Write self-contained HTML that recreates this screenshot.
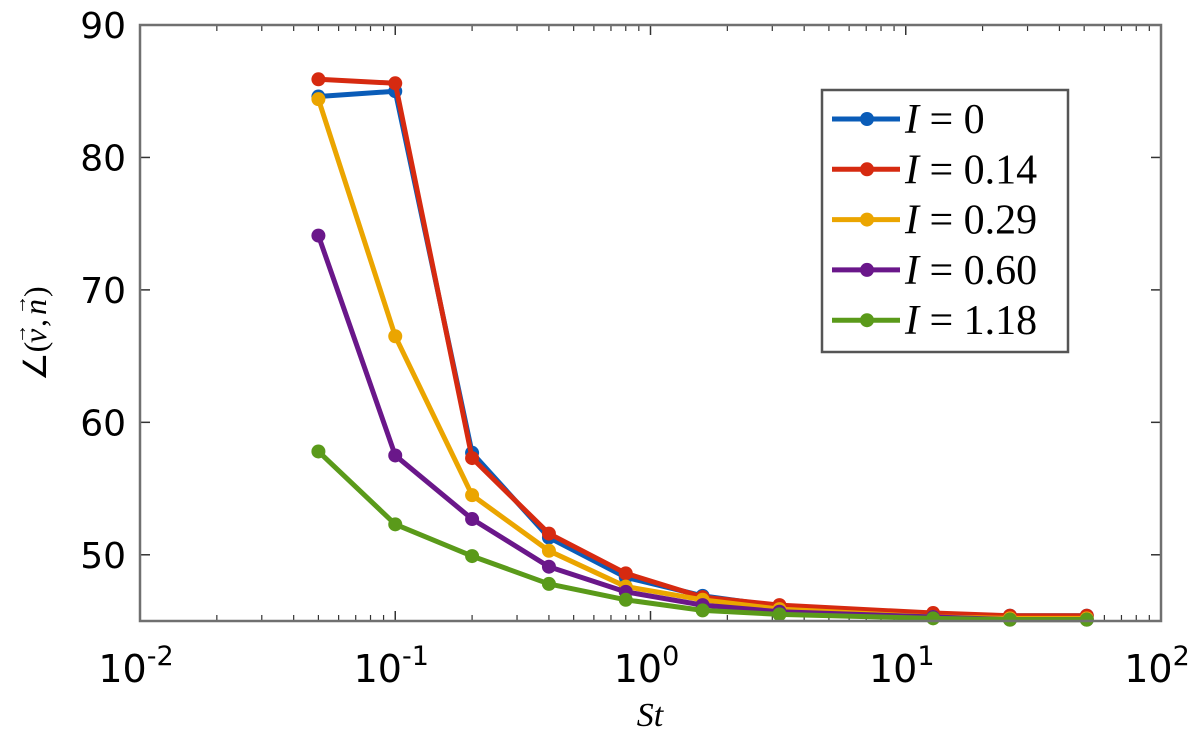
<!DOCTYPE html>
<html><head><meta charset="utf-8">
<style>
html,body{margin:0;padding:0;background:#fff;}
svg{display:block;font-family:"DejaVu Sans","Liberation Sans",sans-serif;}
</style></head>
<body>
<svg id="chart" width="1200" height="736" viewBox="0 0 1200 736" xmlns="http://www.w3.org/2000/svg">
<g id="ticks"></g>
<g id="series"></g>
<rect x="140" y="25" width="1021" height="596" fill="none" stroke="#707070" stroke-width="2.5"/>
<text x="650" y="726" font-family="Liberation Serif,serif" font-style="italic" font-size="34" text-anchor="middle">St</text>
<g transform="translate(36,323) rotate(-90)" font-family="Liberation Serif,serif" font-size="32">
<text x="-58" y="10">∠(</text>
<text x="-20" y="10" font-style="italic">v</text>
<text x="-21" y="-10" font-size="20">→</text>
<text x="-4" y="10">,</text>
<text x="8" y="10" font-style="italic">n</text>
<text x="8" y="-10" font-size="20">→</text>
<text x="26" y="10">)</text>
</g>
<g id="legend">
<rect x="822" y="90" width="246" height="262" fill="#fff" stroke="#555" stroke-width="2.5"/>
</g>
</svg>
<script>
const stValues=[0.05,0.1,0.2,0.4,0.8,1.6,3.2,12.8,25.6,51.2];
const seriesNames=["I = 0","I = 0.14","I = 0.29","I = 0.60","I = 1.18"];
const legendLabels=["0","0.14","0.29","0.60","1.18"];
const seriesColors=["#0a5cb8","#d62a10","#eba500","#6a178a","#5a9a1a"];
const valsI0=[84.6,85.0,57.7,51.3,48.3,46.9,46.1,45.5,45.4,45.4];
const valsI014=[85.9,85.6,57.3,51.6,48.6,46.8,46.2,45.6,45.4,45.4];
const valsI029=[84.4,66.5,54.5,50.3,47.6,46.6,45.9,45.3,45.2,45.2];
const valsI060=[74.1,57.5,52.7,49.1,47.2,46.2,45.7,45.3,45.1,45.1];
const valsI118=[57.8,52.3,49.9,47.8,46.6,45.8,45.5,45.2,45.1,45.1];
const allSeries=[valsI0,valsI014,valsI029,valsI060,valsI118];
const yTicks=[50,60,70,80,90];
const xDecades=[-2,-1,0,1,2];

const NS="http://www.w3.org/2000/svg";
const X0=140,X1=1161,Y0=621,Y1=25;
function xs(v){return X0+(Math.log10(v)+2)/4*(X1-X0);}
function ys(v){return Y0-(v-45)/45*(Y0-Y1);}
function mk(tag,attrs,parent){const e=document.createElementNS(NS,tag);for(const k in attrs)e.setAttribute(k,attrs[k]);parent.appendChild(e);return e;}

const tg=document.getElementById('ticks');
yTicks.forEach(t=>{
  const y=ys(t);
  const l=mk('line',{x1:X0,x2:X0+10,y1:y,y2:y,stroke:'#333','stroke-width':1.5},tg);
  
  
  const l2=mk('line',{x1:X1-10,x2:X1,y1:y,y2:y,stroke:'#333','stroke-width':1.5},tg);
  
  
  const tx=mk('text',{x:X0-14,y:y+13,'font-size':36,'text-anchor':'end'},tg);
  tx.textContent=t;
  
  
});
xDecades.forEach((d,i)=>{
  const x=xs(Math.pow(10,d));
  [[Y0,Y0-10],[Y1,Y1+10]].forEach(p=>{
    const l=mk('line',{x1:x,x2:x,y1:p[0],y2:p[1],stroke:'#333','stroke-width':1.5},tg);
    
    
  });
  if(i<xDecades.length-1){
    for(let m=2;m<10;m++){
      const xm=xs(m*Math.pow(10,d));
      [[Y0,Y0-6],[Y1,Y1+6]].forEach(p=>{
        const l=mk('line',{x1:xm,x2:xm,y1:p[0],y2:p[1],stroke:'#333','stroke-width':1.2},tg);
        
        
      });
    }
  }
  const tx=mk('text',{x:x-4,y:682,'font-size':38,'text-anchor':'middle'},tg);
  
  
  const a=document.createElementNS(NS,'tspan');a.textContent='10';tx.appendChild(a);
  const b=document.createElementNS(NS,'tspan');b.setAttribute('dy','-17');b.setAttribute('font-size','27');b.textContent=d;tx.appendChild(b);
});

const sg=document.getElementById('series');
allSeries.forEach((vals,si)=>{
  const g=mk('g',{},sg);
  
  
  const pts=vals.map((v,i)=>xs(stValues[i])+','+ys(v)).join(' ');
  const pl=mk('polyline',{points:pts,fill:'none',stroke:seriesColors[si],'stroke-width':5,'stroke-linejoin':'round'},g);
  
  
  vals.forEach((v,i)=>{
    const c=mk('circle',{cx:xs(stValues[i]),cy:ys(v),r:7,fill:seriesColors[si]},g);
    
    
  });
});

const lg=document.getElementById('legend');
seriesNames.forEach((n,i)=>{
  const y=119+i*50.3;
  const e=mk('g',{},lg);
  
  
  mk('line',{x1:832,x2:900,y1:y,y2:y,stroke:seriesColors[i],'stroke-width':5},e);
  mk('circle',{cx:867,cy:y,r:7,fill:seriesColors[i]},e);
  const t=mk('text',{x:905,y:y+14,'font-family':'Liberation Serif,serif','font-size':42},e);
  const a=document.createElementNS(NS,'tspan');a.setAttribute('font-style','italic');a.textContent='I';t.appendChild(a);
  const b=document.createElementNS(NS,'tspan');b.textContent=' = '+legendLabels[i];t.appendChild(b);
});
</script>
</body></html>
